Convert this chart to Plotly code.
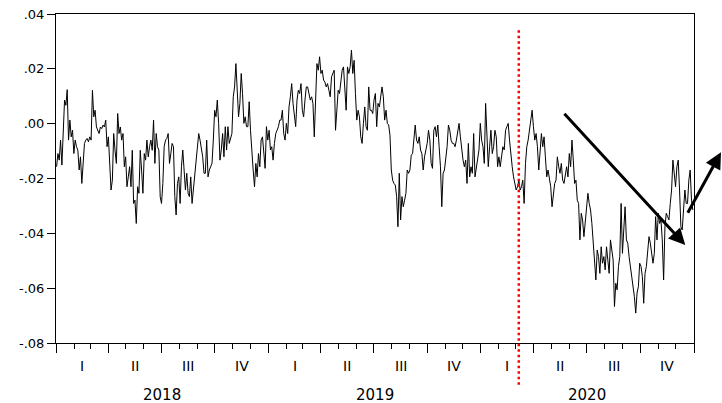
import pandas as pd
import plotly.graph_objects as go

# ---- series values (chronological, evenly spaced) ----
vals_2018_q1 = [
    -0.0157, -0.0109, -0.0133, -0.0060, -0.0151, -0.0012, 0.0086, 0.0067, 0.0124, -0.0060,
    0.0013, -0.0048, -0.0024, -0.0109, -0.0060, -0.0084, -0.0097, -0.0169, -0.0121, -0.0218,
    -0.0133, -0.0072, -0.0060, -0.0054, -0.0066, -0.0048, -0.0060, 0.0122, 0.0025, 0.0049,
    -0.0012, -0.0024, -0.0036, -0.0012, -0.0018, -0.0005, -0.0012, 0.0013, -0.0084, -0.0048,
    -0.0157, -0.0242, -0.0206, -0.0036, -0.0097, -0.0145, 0.0037, -0.0036, -0.0012, -0.0060,
    -0.0036, -0.0157, -0.0121, -0.0230, -0.0194, -0.0157, -0.0230, -0.0097, -0.0291, -0.0279,
    -0.0364, -0.0230, -0.0254, -0.0097, -0.0169, -0.0254, -0.0109, -0.0133, -0.0060, -0.0121,
    -0.0084, -0.0060, -0.0097, 0.0013, -0.0145, -0.0036, -0.0084, -0.0097, -0.0267, -0.0291,
    -0.0218, -0.0084,
]
vals_2018_q3 = [
    -0.0060, -0.0054, -0.0036, -0.0145, -0.0109, -0.0072, -0.0084, -0.0266, -0.0333, -0.0218,
    -0.0194, -0.0291, -0.0157, -0.0096, -0.0169, -0.0242, -0.0181, -0.0254, -0.0266, -0.0194,
    -0.0291, -0.0242, -0.0169, -0.0121, -0.0096, -0.0036, -0.0060, -0.0084, -0.0121, -0.0181,
    -0.0181, -0.0060, -0.0194, -0.0169, -0.0157, -0.0145, -0.0060, 0.0049, 0.0025, 0.0086,
    0.0001, -0.0133, -0.0096, -0.0036, -0.0121, -0.0011, -0.0096, -0.0011, -0.0072, -0.0048,
    -0.0036, 0.0098, 0.0134, 0.0219, 0.0122, 0.0025, 0.0074, 0.0183, 0.0110, 0.0001,
    0.0025, -0.0011, -0.0011, 0.0080, -0.0024, -0.0121, -0.0169, -0.0230, -0.0145, -0.0194,
    -0.0109, -0.0157, -0.0060, -0.0048, -0.0121, -0.0163, -0.0011, -0.0060, -0.0024, -0.0096,
]
vals_2019_h1 = [
    -0.0084, -0.0133, -0.0072, -0.0036, -0.0024, -0.0011, 0.0013, 0.0013, 0.0049, -0.0036,
    -0.0060, 0.0001, -0.0036, 0.0061, 0.0098, 0.0146, 0.0074, 0.0037, -0.0011, 0.0086,
    0.0122, 0.0110, 0.0146, 0.0049, 0.0025, 0.0086, 0.0134, 0.0134, 0.0110, 0.0086,
    0.0098, 0.0074, -0.0048, 0.0074, 0.0219, 0.0195, 0.0244, 0.0183, 0.0195, 0.0159,
    0.0152, 0.0134, 0.0146, 0.0122, 0.0098, 0.0171, 0.0183, 0.0195, -0.0024, 0.0061,
    0.0122, 0.0110, 0.0146, 0.0195, 0.0207, 0.0110, 0.0049, 0.0207, 0.0183, 0.0207,
    0.0268, 0.0183, 0.0231, 0.0110, 0.0013, 0.0049, 0.0025, -0.0048, -0.0072, 0.0001,
    0.0061, -0.0011, -0.0024, 0.0134, 0.0049, 0.0049, 0.0037, 0.0086, 0.0110,
]
vals_2019_h2 = [
    -0.0011, 0.0074, 0.0061, 0.0110, 0.0134, 0.0098, 0.0013, 0.0049, 0.0001, -0.0005,
    -0.0042, -0.0169, -0.0206, -0.0218, -0.0224, -0.0266, -0.0376, -0.0181, -0.0351, -0.0266,
    -0.0303, -0.0279, -0.0254, -0.0169, -0.0181, -0.0169, -0.0115, -0.0109, -0.0060, -0.0005,
    -0.0060, -0.0072, -0.0048, -0.0096, -0.0109, -0.0169, -0.0121, -0.0096, -0.0072, -0.0024,
    -0.0060, -0.0145, -0.0163, -0.0024, -0.0011, -0.0048, -0.0005, -0.0084, -0.0157, -0.0303,
    -0.0181, -0.0169, -0.0133, -0.0084, -0.0005, -0.0024, -0.0060, -0.0072, -0.0072, -0.0084,
    -0.0060, -0.0036, 0.0001, -0.0048, -0.0096, -0.0133, -0.0157, -0.0133, -0.0218, -0.0072,
    -0.0194, -0.0157, -0.0181, -0.0036, -0.0194, -0.0157, -0.0121, -0.0096, 0.0001, -0.0060,
]
vals_2020_h1 = [
    -0.0084, -0.0145, 0.0074, -0.0024, -0.0157, -0.0084, -0.0024, -0.0109, -0.0084, -0.0024,
    -0.0048, -0.0157, -0.0121, -0.0157, -0.0121, -0.0084, -0.0096, -0.0024, -0.0011, 0.0001,
    -0.0060, -0.0121, -0.0157, -0.0194, -0.0218, -0.0242, -0.0230, -0.0206, -0.0242, -0.0230,
    -0.0206, -0.0291, -0.0145, -0.0084, -0.0060, -0.0024, 0.0025, 0.0049, -0.0011, -0.0060,
    -0.0036, -0.0084, -0.0169, -0.0084, -0.0036, -0.0084, -0.0048, -0.0121, -0.0194, -0.0169,
    -0.0194, -0.0230, -0.0303, -0.0266, -0.0218, -0.0206, -0.0121, -0.0157, -0.0181, -0.0145,
    -0.0206, -0.0218, -0.0181, -0.0157, -0.0194, -0.0109, -0.0157, -0.0060, -0.0133, -0.0218,
    -0.0206, -0.0279, -0.0291, -0.0424, -0.0327, -0.0351, -0.0412, -0.0364, -0.0291,
]
vals_2020_h2 = [
    -0.0254, -0.0291, -0.0315, -0.0364, -0.0436, -0.0473, -0.0570, -0.0461, -0.0485, -0.0546,
    -0.0449, -0.0509, -0.0485, -0.0533, -0.0449, -0.0497, -0.0546, -0.0424, -0.0473, -0.0497,
    -0.0667, -0.0582, -0.0606, -0.0521, -0.0485, -0.0291, -0.0473, -0.0400, -0.0303, -0.0424,
    -0.0436, -0.0485, -0.0521, -0.0570, -0.0594, -0.0631, -0.0691, -0.0618, -0.0594, -0.0509,
    -0.0521, -0.0558, -0.0655, -0.0546, -0.0521, -0.0473, -0.0412, -0.0436, -0.0473, -0.0509,
    -0.0473, -0.0339, -0.0424, -0.0327, -0.0364, -0.0351, -0.0424, -0.0570, -0.0376, -0.0327,
    -0.0339, -0.0351, -0.0291, -0.0242, -0.0133, -0.0181, -0.0230, -0.0157, -0.0133, -0.0242,
    -0.0376, -0.0388, -0.0291, -0.0242, -0.0291, -0.0291, -0.0206, -0.0169, -0.0279, -0.0315,
]

series_start = "2018-01-02"
series_end = "2020-12-30"
axis_start = "2018-01-01"
axis_end = "2021-01-01"
event_date = "2020-03-06"

quarter_labels = ["I", "II", "III", "IV"]
year_labels = ["2018", "2019", "2020"]
ytick_vals = [0.04, 0.02, 0.0, -0.02, -0.04, -0.06, -0.08]
ytick_text = [".04", ".02", ".00", "-.02", "-.04", "-.06", "-.08"]

# trend arrow (tail -> head) in data units
arrow_tail = ("2020-05-21", 0.0042)
arrow_head = ("2020-12-17", -0.0443)

values = (vals_2018_q1 + vals_2018_q3 + vals_2019_h1 + vals_2019_h2
          + vals_2020_h1 + vals_2020_h2)
dates = pd.date_range(series_start, series_end, periods=len(values))

FONT = "DejaVu Sans, Liberation Sans, Arial, sans-serif"

fig = go.Figure()
fig.add_trace(go.Scatter(
    x=dates, y=values, mode="lines",
    line=dict(color="black", width=1),
    showlegend=False, hoverinfo="skip",
))

quarter_starts = pd.date_range(axis_start, axis_end, freq="QS")
month_starts = pd.date_range(axis_start, axis_end, freq="MS")

fig.update_xaxes(
    type="date", range=[axis_start, axis_end], automargin=False,
    showline=True, linecolor="black", linewidth=1, mirror=True,
    ticks="outside", tickmode="array", tickvals=list(quarter_starts), ticklen=9,
    tickcolor="black", tickwidth=1, showticklabels=False,
    showgrid=False, zeroline=False,
    minor=dict(tickmode="array", tickvals=list(month_starts), ticks="outside",
               ticklen=5, tickcolor="black", tickwidth=1, showgrid=False),
)
fig.update_yaxes(
    range=[-0.08, 0.04], automargin=False,
    tickmode="array", tickvals=ytick_vals, ticktext=ytick_text,
    ticks="outside", ticklen=8, tickcolor="black", tickwidth=1,
    showline=True, linecolor="black", linewidth=1, mirror=True,
    showgrid=False, zeroline=False,
    tickfont=dict(family=FONT, size=13, color="black"),
)

annotations = []
for yi, yl in enumerate(year_labels):
    ystart = pd.Timestamp(f"{yl}-01-01")
    for qi, ql in enumerate(quarter_labels):
        qs = ystart + pd.DateOffset(months=3 * qi)
        qe = qs + pd.DateOffset(months=3)
        mid = qs + (qe - qs) / 2
        annotations.append(dict(
            x=mid, y=-0.0695, xref="x", yref="paper", text=ql, showarrow=False,
            xanchor="center", yanchor="middle",
            font=dict(family=FONT, size=14, color="black"),
        ))
    ye = ystart + pd.DateOffset(years=1)
    annotations.append(dict(
        x=ystart + (ye - ystart) / 2, y=-0.157, xref="x", yref="paper", text=yl,
        showarrow=False, xanchor="center", yanchor="middle",
        font=dict(family=FONT, size=15, color="black"),
    ))

# downward trend arrow
annotations.append(dict(
    x=arrow_head[0], y=arrow_head[1], ax=arrow_tail[0], ay=arrow_tail[1],
    xref="x", yref="y", axref="x", ayref="y", text="", showarrow=True,
    arrowhead=2, arrowsize=1.1, arrowwidth=3, arrowcolor="black",
))
# rebound arrow, leaving the frame at the right
annotations.append(dict(
    x=1.0517, y=0.58, xref="paper", yref="paper", ax=-40, ay=62,
    text="", showarrow=True,
    arrowhead=2, arrowsize=1.1, arrowwidth=3, arrowcolor="black",
))

fig.update_layout(
    template="none",
    width=722, height=403,
    margin=dict(l=56, r=28, t=14, b=60, pad=0),
    font=dict(family=FONT, color="black"),
    paper_bgcolor="white", plot_bgcolor="white",
    showlegend=False,
    annotations=annotations,
    shapes=[dict(
        type="line", xref="x", yref="paper",
        x0=event_date, x1=event_date, y0=-0.127, y1=0.9505,
        line=dict(color="red", width=2.5, dash="2.5px,3px"),
    )],
)

fig.write_html(
    "out.html",
    config={"displayModeBar": False, "staticPlot": True},
    post_script="document.body.style.margin='0px';document.body.style.overflow='hidden';",
)
